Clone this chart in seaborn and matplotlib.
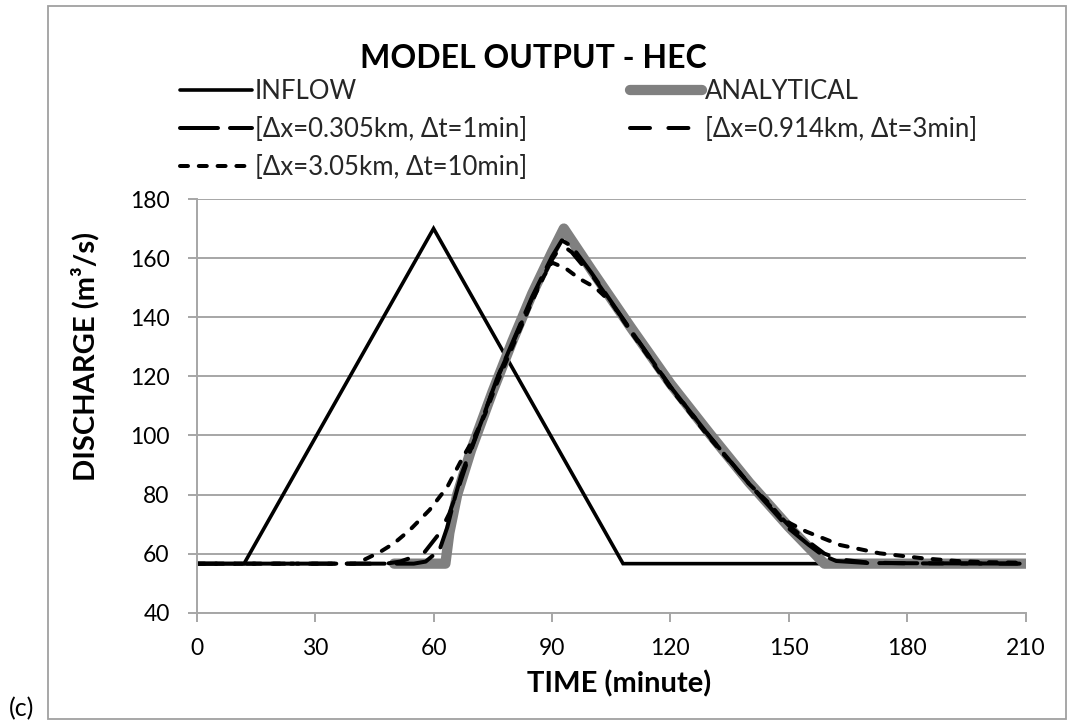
import matplotlib
matplotlib.use("Agg")
import matplotlib.pyplot as plt
from matplotlib.patches import Rectangle
import seaborn as sns
import pandas as pd

# Inflow hydrograph (minutes, m3/s)
t_inflow = [0, 12, 60, 108, 210]
q_inflow = [56.6, 56.6, 170, 56.6, 56.6]

# Analytical kinematic-wave outflow
t_analytical = [50, 63, 64, 66, 69.5, 75, 80, 85, 90, 93, 100, 110, 120, 130, 140, 150, 159, 210]
q_analytical = [56.6, 56.6, 67, 80, 95, 115, 132, 148, 162, 170, 156, 136.5, 117.5, 100.5, 84, 69, 56.6, 56.6]

# HEC model runs
t_run1 = [0, 55, 58, 61.5, 63.5, 65, 67, 69.5, 72.5, 76, 80, 85, 90, 92.5, 95, 100, 110, 120, 130, 140,
          150, 155, 158.5, 162, 170, 210]
q_run1 = [56.6, 56.6, 57.3, 61.2, 69, 77, 86.5, 95.5, 106, 119, 131.5, 147, 160.5, 166, 164, 155, 135.5,
          116.5, 99.5, 83.5, 68.5, 63, 59.5, 57.5, 56.8, 56.6]

t_run2 = [0, 48, 51.5, 57.5, 61.5, 64, 66.5, 69.5, 72.5, 76, 80, 85, 90, 92.5, 95, 97.5, 100, 110, 120,
          130, 140, 150, 155, 159, 163, 170, 180, 210]
q_run2 = [56.6, 56.6, 57.3, 60.1, 66.9, 73.6, 83, 95, 106, 119, 131, 146.5, 159.5, 164.5, 162, 158, 154.5,
          135.5, 116.5, 99.5, 83.5, 69.5, 64, 60, 58, 57, 56.7, 56.6]

t_run3 = [0, 40, 41.5, 46.5, 50, 54, 59, 63.5, 67.5, 70, 73, 76, 80, 85, 88, 90, 93.5, 97, 101, 105, 110,
          120, 130, 140, 145, 148.5, 154.5, 163, 173, 184, 192.5, 200, 210]
q_run3 = [56.6, 56.6, 57.3, 60.6, 63.5, 68, 74.8, 82.6, 92.8, 98.5, 107, 117.5, 130, 145.5, 154, 158.5,
          156.5, 153, 150, 145, 135, 116, 99, 83.5, 77, 71.5, 67.4, 62.9, 60.1, 58.4, 57.5, 57.1, 56.9]

labels = ["INFLOW", "ANALYTICAL", "[Δx=0.305km, Δt=1min]", "[Δx=0.914km, Δt=3min]",
          "[Δx=3.05km, Δt=10min]"]

y_ticks = [40, 60, 80, 100, 120, 140, 160, 180]
x_ticks = [0, 30, 60, 90, 120, 150, 180, 210]

sns.set_theme(style="white")
plt.rcParams["font.family"] = ["Lato", "DejaVu Sans"]

W, H = 1068, 722
fig = plt.figure(figsize=(W / 100, H / 100), dpi=100)
ax = fig.add_axes([196.7 / W, 1 - 612.7 / H, (1025.7 - 196.7) / W, (612.7 - 199) / H])

grid_col = "#A6A6A6"
lw_px = 4.0 / 1.389  # dashed line width in points


def draw(t, q, **style):
    df = pd.DataFrame({"t": t, "q": q})
    sns.lineplot(data=df, x="t", y="q", ax=ax, sort=False, estimator=None, **style)
    return ax.lines[-1]


h_in = draw(t_inflow, q_inflow, color="black", linewidth=2.6)
h_an = draw(t_analytical, q_analytical, color="#808080", linewidth=7.4)
h_an.set_solid_joinstyle("round")
h_an.set_solid_capstyle("round")
h1 = draw(t_run1, q_run1, color="black", linewidth=lw_px)
h1.set_dashes((9.5, 3.0))
h2 = draw(t_run2, q_run2, color="black", linewidth=lw_px)
h2.set_dashes((5.0, 4.6))
h3 = draw(t_run3, q_run3, color="black", linewidth=lw_px)
h3.set_dashes((2.0, 2.7))
for h in (h1, h2, h3):
    h.set_dash_capstyle("round")
    h.set_dash_joinstyle("round")
h_in.set_solid_joinstyle("miter")

ax.set_xlim(0, 210)
ax.set_ylim(40, 180)
ax.set_xticks(x_ticks)
ax.set_yticks(y_ticks)
ax.yaxis.grid(True, color=grid_col, linewidth=1.4)
ax.xaxis.grid(False)
ax.set_axisbelow(True)
for side in ("top", "right"):
    ax.spines[side].set_visible(False)
for side in ("left", "bottom"):
    ax.spines[side].set_color(grid_col)
    ax.spines[side].set_linewidth(1.4)
ax.tick_params(axis="both", which="major", direction="out", length=6.5, width=1.4,
               color=grid_col, labelsize=16.5, labelcolor="black")
ax.tick_params(axis="x", pad=12)
ax.tick_params(axis="y", pad=13)
ax.tick_params(bottom=True, left=True)

ax.set_xlabel("TIME (minute)", fontsize=21, fontweight="bold", color="black")
ax.set_ylabel("DISCHARGE (m³/s)", fontsize=21, fontweight="bold", color="black")
ax.xaxis.set_label_coords(0.51, -0.139)
ax.yaxis.set_label_coords(-0.117, 0.62)

fig.text(533 / W, 1 - 59 / H, "MODEL OUTPUT - HEC", ha="center", va="center",
         fontsize=23, fontweight="bold", color="black")

fs_leg = 18.5
leg_kw = dict(frameon=False, fontsize=fs_leg, handlelength=72 / (fs_leg * 1.389),
              handletextpad=0.12, labelspacing=0.5, borderaxespad=0, borderpad=0,
              loc="upper left")
leg1 = fig.legend([h_in, h1, h3], [labels[0], labels[2], labels[4]],
                  bbox_to_anchor=(180 / W, 1 - 79 / H), **leg_kw)
leg2 = fig.legend([h_an, h2], [labels[1], labels[3]],
                  bbox_to_anchor=(630 / W, 1 - 79 / H), **leg_kw)

fig.text(22 / W, 1 - 709 / H, "(c)", ha="center", va="center", fontsize=18, color="black")
fig.add_artist(Rectangle((48 / W, 1 - 719 / H), (1066 - 48) / W, (719 - 6) / H,
                         transform=fig.transFigure, fill=False, edgecolor="#A0A0A0",
                         linewidth=1.3))

fig.savefig("out.png", dpi=100)
